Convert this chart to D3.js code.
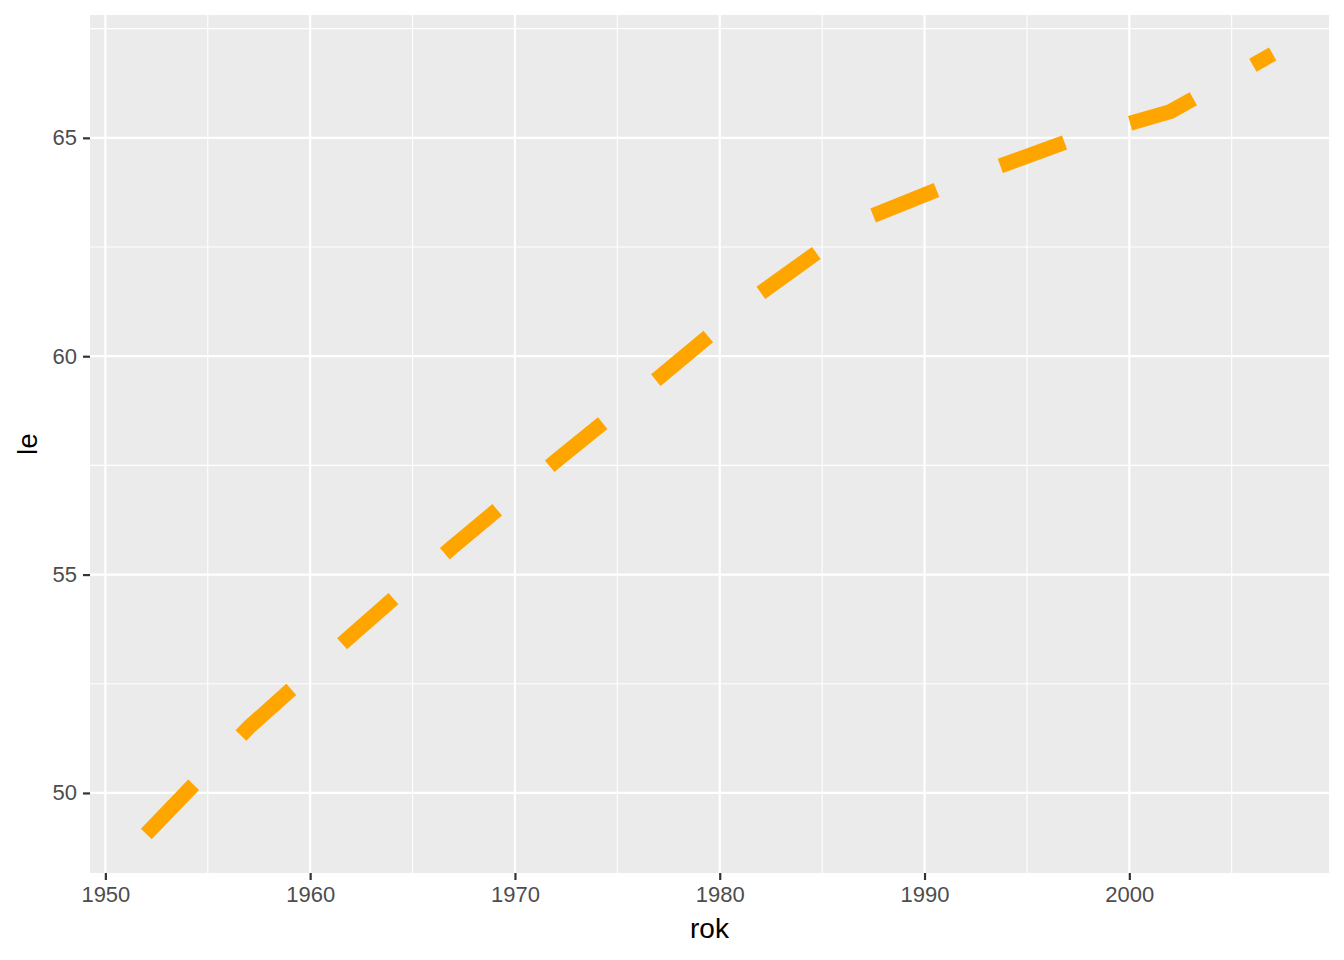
<!DOCTYPE html>
<html>
<head>
<meta charset="utf-8">
<script src="https://cdn.jsdelivr.net/npm/d3@7"></script>
<style>
  html, body { margin: 0; padding: 0; background: #ffffff; }
  svg text { font-family: "Liberation Sans", Arial, Helvetica, sans-serif; }
</style>
</head>
<body>
<svg id="chart" width="1344" height="960"></svg>
<script>
// DATA
var years = [1952, 1957, 1962, 1967, 1972, 1977, 1982, 1987, 1992, 1997, 2002, 2007];
var lifeExp = [49.06, 51.50, 53.60, 55.65, 57.60, 59.50, 61.45, 63.13, 64.07, 64.92, 65.60, 66.92];
var xBreaks = [1950, 1960, 1970, 1980, 1990, 2000];
var xMinor = [1955, 1965, 1975, 1985, 1995, 2005];
var yBreaks = [50, 55, 60, 65];
var yMinor = [52.5, 57.5, 62.5, 67.5];

var svg = d3.select("#chart");
var panel = { left: 90, right: 1329, top: 15, bottom: 873 };

// ggplot style 5% expansion of the data range
function expand(ext){
  var pad = (ext[1] - ext[0]) * 0.05;
  return [ext[0] - pad, ext[1] + pad];
}

var xScale = d3.scaleLinear().domain(expand(d3.extent(years))).range([panel.left, panel.right]);
var yScale = d3.scaleLinear().domain(expand(d3.extent(lifeExp))).range([panel.bottom, panel.top]);

// PANEL BACKGROUND
svg.append("rect")
  .attr("x", panel.left).attr("y", panel.top)
  .attr("width", panel.right - panel.left).attr("height", panel.bottom - panel.top)
  .attr("fill", "#EBEBEB");

var grid = svg.append("g").attr("class", "grid");

// minor gridlines
grid.selectAll(".vminor").data(xMinor).enter().append("line")
  .attr("x1", function(d){ return xScale(d); }).attr("x2", function(d){ return xScale(d); })
  .attr("y1", panel.top).attr("y2", panel.bottom)
  .attr("stroke", "#ffffff").attr("stroke-width", 1.1);
grid.selectAll(".hminor").data(yMinor).enter().append("line")
  .attr("y1", function(d){ return yScale(d); }).attr("y2", function(d){ return yScale(d); })
  .attr("x1", panel.left).attr("x2", panel.right)
  .attr("stroke", "#ffffff").attr("stroke-width", 1.1);

// major gridlines
grid.selectAll(".vmajor").data(xBreaks).enter().append("line")
  .attr("x1", function(d){ return xScale(d); }).attr("x2", function(d){ return xScale(d); })
  .attr("y1", panel.top).attr("y2", panel.bottom)
  .attr("stroke", "#ffffff").attr("stroke-width", 2.2);
grid.selectAll(".hmajor").data(yBreaks).enter().append("line")
  .attr("y1", function(d){ return yScale(d); }).attr("y2", function(d){ return yScale(d); })
  .attr("x1", panel.left).attr("x2", panel.right)
  .attr("stroke", "#ffffff").attr("stroke-width", 2.2);

// LINE
var line = d3.line()
  .x(function(d, i){ return xScale(years[i]); })
  .y(function(d){ return yScale(d); });

svg.append("path")
  .datum(lifeExp)
  .attr("d", line)
  .attr("fill", "none")
  .attr("stroke", "#FFA500")
  .attr("stroke-width", 15)
  .attr("stroke-dasharray", "68.3 68.3")
  .attr("stroke-linecap", "butt")
  .attr("stroke-linejoin", "round");

// AXES
var xAxis = d3.axisBottom(xScale).tickValues(xBreaks).tickSize(7).tickPadding(6).tickFormat(d3.format("d"));
var yAxis = d3.axisLeft(yScale).tickValues(yBreaks).tickSize(7).tickPadding(6);

var gx = svg.append("g").attr("transform", "translate(0," + panel.bottom + ")").call(xAxis);
var gy = svg.append("g").attr("transform", "translate(" + panel.left + ",0)").call(yAxis);

[gx, gy].forEach(function(g){
  g.select(".domain").remove();
  g.selectAll(".tick line").attr("stroke", "#333333").attr("stroke-width", 2.2);
  g.selectAll(".tick text").attr("fill", "#4D4D4D").attr("font-size", 22);
});

// AXIS TITLES
svg.append("text")
  .attr("x", (panel.left + panel.right) / 2)
  .attr("y", 938)
  .attr("text-anchor", "middle")
  .attr("font-size", 28)
  .attr("fill", "#000000")
  .text("rok");

svg.append("text")
  .attr("transform", "translate(37," + (panel.top + panel.bottom) / 2 + ") rotate(-90)")
  .attr("text-anchor", "middle")
  .attr("font-size", 28)
  .attr("fill", "#000000")
  .text("le");
</script>
</body>
</html>
